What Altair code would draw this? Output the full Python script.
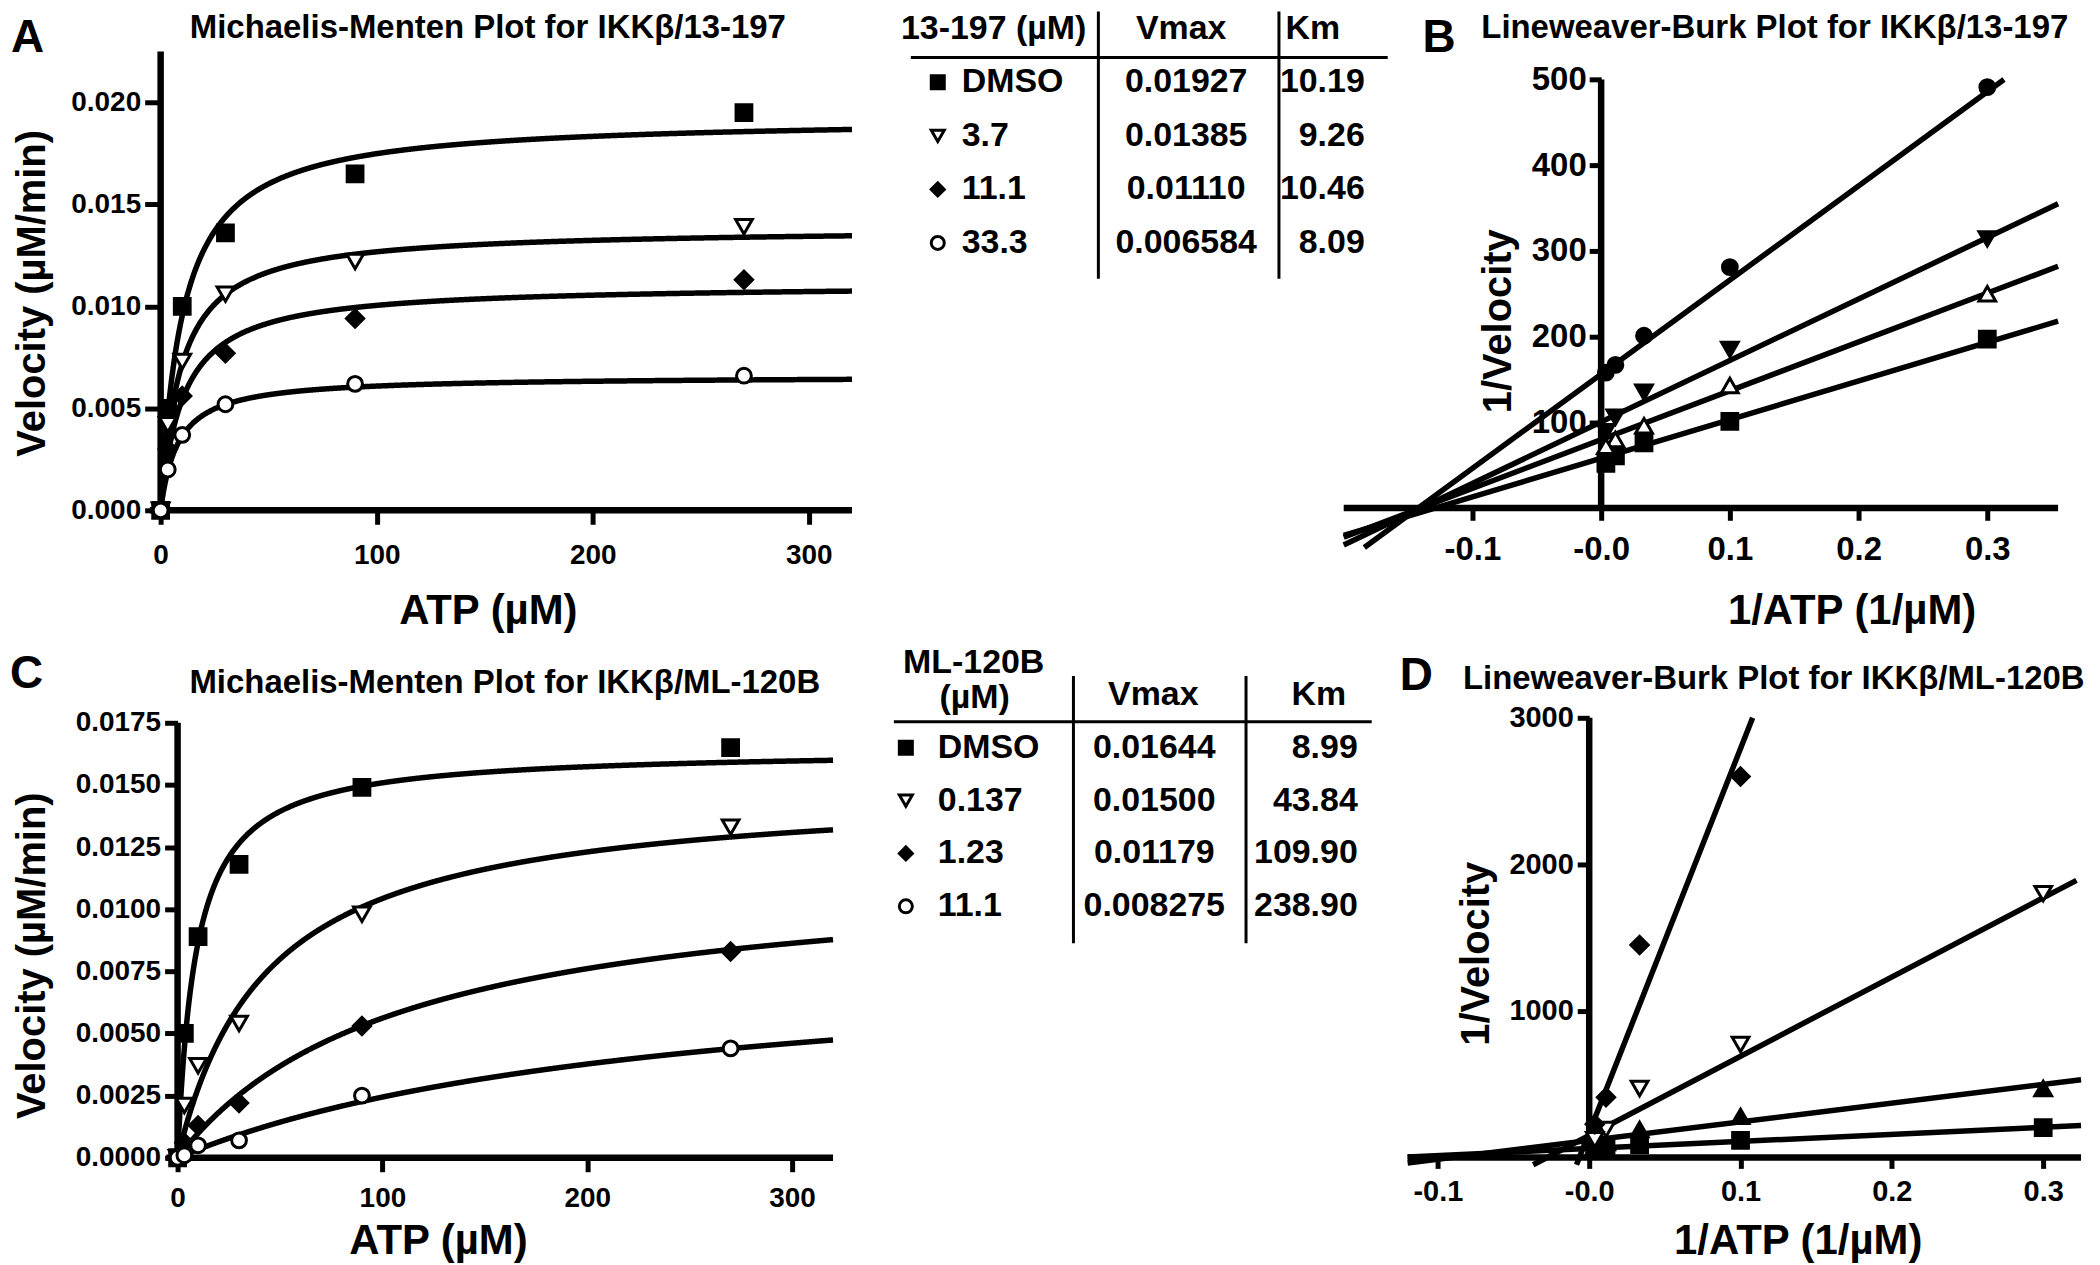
import altair as alt
import pandas as pd

FONT = "Liberation Sans"

# ---------------- data ----------------
# ATP concentrations (µM) in the Michaelis-Menten panels
atp_um = [0, 3.3, 10, 30, 90, 270]
# reciprocal ATP (1/µM) in the Lineweaver-Burk panels
inv_atp = [0.3, 0.1, 0.0333, 0.0111, 0.0037]

# ---- IKKβ / 13-197 (panels A, B) ----
a_header = ["13-197 (µM)", "Vmax", "Km"]
a_labels = ["DMSO", "3.7", "11.1", "33.3"]
a_vmax = [0.01927, 0.01385, 0.01110, 0.006584]
a_km = [10.19, 9.26, 10.46, 8.09]
a_shapes = ["square", "triangle-down", "diamond", "circle"]
a_fills = ["black", "white", "black", "white"]
a_vel_dmso = [0.0, 0.0050, 0.0100, 0.0136, 0.0165, 0.0195]
a_vel_3_7 = [0.0, 0.0042, 0.0073, 0.0106, 0.0122, 0.0139]
a_vel_11_1 = [0.0, 0.0030, 0.0056, 0.0077, 0.0094, 0.0113]
a_vel_33_3 = [0.0, 0.0020, 0.0037, 0.0052, 0.0062, 0.0066]

b_shapes = ["square", "triangle-up", "triangle-down", "circle"]
b_fills = ["black", "white", "black", "black"]
b_inv_dmso = [197, 101, 76, 61, 52]
b_inv_3_7 = [250, 143, 96, 80, 72]
b_inv_11_1 = [314, 185, 135, 106, 89]
b_inv_33_3 = [491, 281, 201, 167, 158]
b_fit_x0 = [-0.2, -0.2, -0.2, -0.184]
b_fit_y0 = [-32, -34, -43, -46]
b_fit_x1 = [0.355, 0.355, 0.355, 0.313]
b_fit_y1 = [218, 282, 355, 500]

# ---- IKKβ / ML-120B (panels C, D) ----
c_header = ["ML-120B", "(µM)", "Vmax", "Km"]
c_labels = ["DMSO", "0.137", "1.23", "11.1"]
c_vmax = [0.01644, 0.01500, 0.01179, 0.008275]
c_km = [8.99, 43.84, 109.90, 238.90]
c_shapes = ["square", "triangle-down", "diamond", "circle"]
c_fills = ["black", "white", "black", "white"]
c_vel_dmso = [0.0, 0.0050, 0.0089, 0.0118, 0.0149, 0.0165]
c_vel_0_137 = [0.0, 0.0021, 0.0037, 0.0054, 0.0098, 0.0133]
c_vel_1_23 = [0.0, 0.0006, 0.0013, 0.0022, 0.0053, 0.0083]
c_vel_11_1 = [0.0, 0.0001, 0.0005, 0.0007, 0.0025, 0.0044]

d_shapes = ["square", "triangle-up", "triangle-down", "diamond"]
d_fills = ["black", "black", "white", "black"]
d_inv_dmso = [204, 116, 88, 67, 61]
d_inv_0_137 = [470, 280, 190, 102, 75]
d_inv_1_23 = [1800, 770, 470, 190, 120]
d_inv_11_1 = [None, 2600, 1450, 410, 227]
d_fit_x0 = [-0.12, -0.12, -0.037, -0.0084]
d_fit_y0 = [3, -38, -50, -50]
d_fit_x1 = [0.325, 0.325, 0.322, 0.108]
d_fit_y1 = [218, 530, 1891, 3000]

title_a = "Michaelis-Menten Plot for IKKβ/13-197"
title_b = "Lineweaver-Burk Plot for IKKβ/13-197"
title_c = "Michaelis-Menten Plot for IKKβ/ML-120B"
title_d = "Lineweaver-Burk Plot for IKKβ/ML-120B"

# symbol sizes (style)
SYM_SIZE = {"square": 250, "triangle-up": 280, "triangle-down": 280,
            "diamond": 300, "circle": 220}

# ---------------- helpers ----------------
ONE = pd.DataFrame({"k": [0]})


def points_df(xs, labels, ys_list, shapes, fills):
    rows = []
    for lab, ys, sh, fl in zip(labels, ys_list, shapes, fills):
        for x, y in zip(xs, ys):
            if y is None:
                continue
            rows.append({"series": lab, "x": x, "y": y, "shape": sh, "fill": fl,
                         "size": SYM_SIZE[sh]})
    return pd.DataFrame(rows)


def fit_df(labels, x0, y0, x1, y1):
    rows = []
    for lab, a, b, c, d in zip(labels, x0, y0, x1, y1):
        rows.append({"series": lab, "x": a, "y": b})
        rows.append({"series": lab, "x": c, "y": d})
    return pd.DataFrame(rows)


def text_at(text, x, y, size, align="center", baseline="alphabetic"):
    return alt.Chart(pd.DataFrame({"t": [text]})).mark_text(
        font=FONT, fontSize=size, fontWeight="bold", color="black",
        align=align, baseline=baseline
    ).encode(x=alt.value(x), y=alt.value(y), text="t:N")


def make_axis(values, title, tx, ty, offset, title_size=42, fmt=None, expr=None,
              label_size=30, label_pad=5, tick_size=12):
    kw = dict(values=values, title=title, titleX=tx, titleY=ty, offset=offset,
              domain=False, grid=False, ticks=True, tickColor="black",
              tickWidth=5, tickSize=tick_size,
              labelFont=FONT, labelFontSize=label_size, labelFontWeight="bold",
              labelColor="black", labelPadding=label_pad, labelOverlap=False,
              labelFlush=False,
              titleFont=FONT, titleFontSize=title_size, titleFontWeight="bold",
              titleColor="black", titleAlign="center", titleBaseline="middle")
    if fmt:
        kw["format"] = fmt
    if expr:
        kw["labelExpr"] = expr
    return alt.Axis(**kw)


def axis_lines(xs, ys, xax, yax, x_start, x_end, y_bottom, y_top):
    xline = alt.Chart(ONE).mark_rule(color="black", strokeWidth=6.5).encode(
        x=alt.XDatum(x_start, scale=xs, axis=xax), x2=alt.X2Datum(x_end),
        y=alt.YDatum(0, scale=ys, axis=yax))
    yline = alt.Chart(ONE).mark_rule(color="black", strokeWidth=6.5).encode(
        x=alt.XDatum(0, scale=xs, axis=xax),
        y=alt.YDatum(y_bottom, scale=ys, axis=yax), y2=alt.Y2Datum(y_top))
    return xline, yline


def symbols(df, xs, ys, xax, yax):
    return alt.Chart(df).mark_point(
        filled=True, stroke="black", strokeWidth=3, opacity=1
    ).encode(
        x=alt.X("x:Q", scale=xs, axis=xax),
        y=alt.Y("y:Q", scale=ys, axis=yax),
        shape=alt.Shape("shape:N", scale=None),
        fill=alt.Fill("fill:N", scale=None),
        size=alt.Size("size:Q", scale=None),
    )


def mm_panel(labels, vmax, km, vels, shapes, fills, xdom, ydom, w, h,
             yvals, yfmt, yoff, xline_start, ytop, xt, yt,
             title, title_xy, letter, letter_xy, xpad, ytick, extra=()):
    xs = alt.Scale(domain=xdom, nice=False, zero=False)
    ys = alt.Scale(domain=ydom, nice=False, zero=False)
    xaxis = make_axis([0, 100, 200, 300], "ATP (µM)", xt[0], xt[1], 0, fmt="d",
                      label_size=28, label_pad=xpad, tick_size=14)
    yaxis = make_axis(yvals, "Velocity (µM/min)", yt[0], yt[1], yoff, fmt=yfmt,
                      title_size=40, label_size=28, label_pad=4, tick_size=ytick)
    params = pd.DataFrame({"series": labels, "vmax": vmax, "km": km})
    curves = (
        alt.Chart(params)
        .transform_calculate(S="sequence(0, 320.25, 0.25)")
        .transform_flatten(["S"])
        .transform_calculate(v="datum.vmax * datum.S / (datum.km + datum.S)")
        .mark_line(color="black", strokeWidth=5.5)
        .encode(x=alt.X("S:Q", scale=xs, axis=xaxis),
                y=alt.Y("v:Q", scale=ys, axis=yaxis),
                detail="series:N")
    )
    xline, yline = axis_lines(xs, ys, xaxis, yaxis, xline_start, xdom[1], 0, ytop)
    pts = symbols(points_df(atp_um, labels, vels, shapes, fills), xs, ys, xaxis, yaxis)
    t = text_at(title, title_xy[0], title_xy[1], 33)
    l = text_at(letter, letter_xy[0], letter_xy[1], 46, align="left", baseline="top")
    return alt.layer(curves, xline, yline, pts, t, l, *extra).properties(width=w, height=h)


XEXPR = ("datum.value == 0 ? '-0.0' : (datum.value < 0 ? '-' + "
         "format(-datum.value, '.1f') : format(datum.value, '.1f'))")


def lb_panel(labels, invs, shapes, fills, fx0, fy0, fx1, fy1, xdom, ydom, w, h,
             xoff, yoff, yvals, xline_start, ytop, xt, yt,
             title, title_xy, letter, letter_xy, lsize, xpad, xtick, ypad):
    xs = alt.Scale(domain=xdom, nice=False, zero=False)
    ys = alt.Scale(domain=ydom, nice=False, zero=False)
    xaxis = make_axis([-0.1, 0, 0.1, 0.2, 0.3], "1/ATP (1/µM)", xt[0], xt[1],
                      xoff, expr=XEXPR, label_size=lsize, label_pad=xpad,
                      tick_size=xtick)
    yaxis = make_axis(yvals, "1/Velocity", yt[0], yt[1], yoff, title_size=40,
                      fmt="d", label_size=lsize, label_pad=ypad, tick_size=12)
    lines = alt.Chart(fit_df(labels, fx0, fy0, fx1, fy1)).mark_line(
        color="black", strokeWidth=5.5
    ).encode(x=alt.X("x:Q", scale=xs, axis=xaxis),
             y=alt.Y("y:Q", scale=ys, axis=yaxis),
             detail="series:N")
    xline, yline = axis_lines(xs, ys, xaxis, yaxis, xline_start, xdom[1], 0, ytop)
    pts = symbols(points_df(inv_atp, labels, invs, shapes, fills), xs, ys, xaxis, yaxis)
    t = text_at(title, title_xy[0], title_xy[1], 33)
    l = text_at(letter, letter_xy[0], letter_xy[1], 46, align="left", baseline="top")
    return alt.layer(xline, yline, lines, pts, t, l).properties(width=w, height=h)


def table_panel(headers, labels, vmax, km, shapes, fills, w, h, row_range,
                xm, xl, xv, xk, hline, vlines):
    df = pd.DataFrame({"row": list(range(len(labels))), "label": labels,
                       "vmax": vmax, "km": km, "shape": shapes, "fill": fills})
    yenc = alt.Y("row:O", scale=alt.Scale(range=row_range, padding=0), axis=None)
    base = alt.Chart(df)
    marker = base.mark_point(filled=True, size=170, stroke="black",
                             strokeWidth=3, opacity=1).encode(
        x=alt.value(xm), y=yenc,
        shape=alt.Shape("shape:N", scale=None), fill=alt.Fill("fill:N", scale=None))
    txt = dict(font=FONT, fontSize=34, fontWeight="bold", color="black",
               baseline="middle")
    lab = base.mark_text(align="left", **txt).encode(x=alt.value(xl), y=yenc, text="label:N")
    vm = base.mark_text(align="center", **txt).encode(
        x=alt.value(xv), y=yenc, text=alt.Text("vmax:Q", format=".4r"))
    kmt = base.mark_text(align="right", **txt).encode(
        x=alt.value(xk), y=yenc, text=alt.Text("km:Q", format=".2f"))
    layers = [marker, lab, vm, kmt]
    for text, x, y in headers:
        layers.append(text_at(text, x, y, 34, baseline="middle"))
    layers.append(alt.Chart(ONE).mark_rule(color="black", strokeWidth=3).encode(
        x=alt.value(hline[0]), x2=alt.value(hline[1]), y=alt.value(hline[2])))
    for vx, y0, y1 in vlines:
        layers.append(alt.Chart(ONE).mark_rule(color="black", strokeWidth=3).encode(
            x=alt.value(vx), y=alt.value(y0), y2=alt.value(y1)))
    return alt.layer(*layers).properties(width=w, height=h)


# invisible anchor fixing the top-left corner of the figure at the page corner
anchor = alt.Chart(ONE).mark_rule(opacity=0, strokeWidth=1).encode(
    x=alt.value(-142), x2=alt.value(-141), y=alt.value(-38.5))

# ---------------- panels ----------------
panel_a = mm_panel(
    a_labels, a_vmax, a_km, [a_vel_dmso, a_vel_3_7, a_vel_11_1, a_vel_33_3],
    a_shapes, a_fills, [-5.08, 320], [0, 0.0226], 704, 462,
    [0, 0.005, 0.010, 0.015, 0.020], ".3f", -11, -5, 0.0225,
    (339, 100), (-128, 244), title_a, (339, -11), "A", (-139, -33),
    xpad=17, ytick=16, extra=(anchor,))

table_a = table_panel(
    [(a_header[0], 132, -20), (a_header[1], 320, -20), (a_header[2], 452, -20)],
    a_labels, a_vmax, a_km, a_shapes, a_fills, 540, 230, [33, 194],
    76, 100, 325, 504, (49, 527, 8), [(237, -38, 230), (418, -38, 230)])

panel_b = lb_panel(
    a_labels, [b_inv_dmso, b_inv_3_7, b_inv_11_1, b_inv_33_3], b_shapes, b_fills,
    b_fit_x0, b_fit_y0, b_fit_x1, b_fit_y1,
    [-0.148, 0.355], [-48, 535], 649, 501, -41, -191,
    [100, 200, 300, 400, 500], -0.2, 500, (442, 102), (-103, 272),
    title_b, (365, -11), "B", (12, -33), lsize=33, xpad=13, xtick=12, ypad=3)

panel_c = mm_panel(
    c_labels, c_vmax, c_km, [c_vel_dmso, c_vel_0_137, c_vel_1_23, c_vel_11_1],
    c_shapes, c_fills, [-13.64, 320], [0, 0.0177], 685, 441,
    [0, 0.0025, 0.0050, 0.0075, 0.0100, 0.0125, 0.0150, 0.0175], ".4f", -28, -5.5,
    0.0175, (289, 83), (-145, 238), title_c, (356, -25), "C", (-140, -66),
    xpad=13, ytick=13)

table_c = table_panel(
    [(c_header[0], 112, -55), (c_header[1], 113, -20), (c_header[2], 292, -23),
     (c_header[3], 458, -23)],
    c_labels, c_vmax, c_km, c_shapes, c_fills, 540, 230, [30, 189],
    44, 76, 293, 497, (32, 511, 4), [(212, -42, 226), (385, -42, 226)])

panel_d = lb_panel(
    c_labels, [d_inv_dmso, d_inv_0_137, d_inv_1_23, d_inv_11_1], d_shapes, d_fills,
    d_fit_x0, d_fit_y0, d_fit_x1, d_fit_y1,
    [-0.118, 0.325], [-50, 3000], 672, 448, -7.35, -179,
    [1000, 2000, 3000], -0.12, 3000, (388, 83), (-113, 236),
    title_d, (364, -29), "D", (-11, -64), lsize=29, xpad=9, xtick=11, ypad=4)

chart = alt.concat(
    panel_a, table_a, panel_b, panel_c, table_c, panel_d,
    columns=3, spacing={"row": 169, "column": 10}, bounds="flush", align="each",
    padding=0,
).configure_view(stroke=None)

chart.save("out.html", embed_options={"renderer": "svg", "actions": False})
